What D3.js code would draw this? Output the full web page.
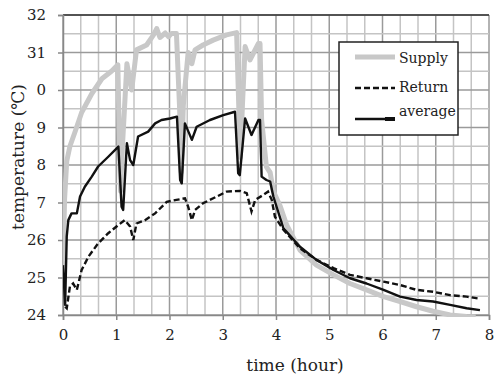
<!DOCTYPE html>
<html>
<head>
<meta charset="utf-8">
<script src="https://cdn.jsdelivr.net/npm/d3@7"></script>
<style>
  body { margin: 0; background: #fff; }
</style>
</head>
<body>
<div id="chart"></div>
<script>
// values
var yTickValues = [24, 25, 26, 27, 28, 29, 30, 31, 32];
var yTickLabels = ["24", "25", "26", "7", "8", "9", "0", "31", "32"];
var xTickValues = [0, 1, 2, 3, 4, 5, 6, 7, 8];

var supplyTime = [0, 0.03, 0.07, 0.13, 0.23, 0.35, 0.54, 0.73, 0.91, 1.03, 1.06, 1.08, 1.12, 1.2, 1.29, 1.38, 1.57, 1.7, 1.76, 1.82, 1.92, 1.98, 2.04, 2.13, 2.19, 2.22, 2.26, 2.35, 2.42, 2.48, 2.63, 2.82, 3.07, 3.26, 3.3, 3.33, 3.37, 3.42, 3.51, 3.67, 3.7, 3.73, 3.82, 3.89, 3.95, 4.08, 4.2, 4.45, 4.76, 5.08, 5.39, 5.7, 6.02, 6.33, 6.64, 6.95, 7.27, 7.58, 7.75];
var supplyTemp = [25.3, 27.1, 28.1, 28.5, 28.9, 29.4, 29.9, 30.3, 30.5, 30.67, 28.5, 27.3, 28.6, 30.7, 30.0, 31.07, 31.2, 31.47, 31.64, 31.4, 31.52, 31.42, 31.51, 31.51, 29.5, 27.8, 29.6, 31.0, 30.7, 31.07, 31.2, 31.33, 31.47, 31.53, 29.6, 28.2, 29.6, 31.16, 30.8, 31.24, 31.24, 29.2, 27.95, 27.8, 27.3, 26.9, 26.4, 25.73, 25.33, 25.07, 24.84, 24.67, 24.49, 24.36, 24.22, 24.1, 24.0, 23.96, 23.95];

var returnTime = [0.04, 0.07, 0.13, 0.19, 0.26, 0.35, 0.48, 0.66, 0.85, 1.04, 1.16, 1.26, 1.32, 1.38, 1.54, 1.73, 1.95, 2.13, 2.29, 2.35, 2.42, 2.48, 2.63, 2.89, 3.07, 3.32, 3.45, 3.54, 3.61, 3.76, 3.85, 3.92, 3.98, 4.14, 4.45, 4.76, 5.08, 5.39, 5.7, 6.02, 6.33, 6.64, 6.95, 7.27, 7.58, 7.8];
var returnTemp = [24.22, 24.18, 24.76, 24.84, 24.67, 25.2, 25.56, 25.91, 26.18, 26.4, 26.53, 26.36, 26.0, 26.44, 26.53, 26.71, 27.02, 27.07, 27.11, 26.89, 26.53, 26.8, 26.98, 27.16, 27.29, 27.31, 27.25, 26.76, 27.07, 27.2, 27.29, 27.07, 26.62, 26.27, 25.78, 25.47, 25.25, 25.07, 24.98, 24.89, 24.8, 24.67, 24.62, 24.53, 24.49, 24.44];

var averageTime = [0, 0.04, 0.07, 0.1, 0.16, 0.26, 0.32, 0.41, 0.54, 0.66, 0.85, 1.04, 1.1, 1.13, 1.2, 1.26, 1.32, 1.41, 1.6, 1.73, 1.85, 2.01, 2.14, 2.2, 2.23, 2.29, 2.42, 2.51, 2.76, 3.01, 3.23, 3.29, 3.32, 3.42, 3.54, 3.67, 3.7, 3.73, 3.82, 3.89, 3.95, 4.14, 4.45, 4.76, 5.08, 5.39, 5.7, 6.02, 6.33, 6.64, 6.95, 7.27, 7.58, 7.83];
var averageTemp = [25.33, 24.27, 26.09, 26.53, 26.71, 26.71, 27.16, 27.42, 27.69, 27.96, 28.22, 28.49, 26.89, 26.8, 28.58, 28.13, 28.0, 28.76, 28.89, 29.11, 29.2, 29.24, 29.29, 27.6, 27.51, 29.11, 28.67, 29.02, 29.2, 29.33, 29.42, 27.78, 27.73, 29.24, 28.8, 29.2, 29.2, 27.69, 27.6, 27.56, 27.16, 26.31, 25.82, 25.47, 25.2, 24.98, 24.84, 24.67, 24.49, 24.4, 24.36, 24.27, 24.18, 24.13];

var width = 495, height = 378;
var margin = {top: 15, right: 6, bottom: 63, left: 63};
var serif = '"DejaVu Serif", "Liberation Serif", serif';

var svg = d3.select('#chart').append('svg')
  .attr('width', width)
  .attr('height', height);

var x = d3.scaleLinear().domain([0, 8]).range([margin.left, width - margin.right]);
var y = d3.scaleLinear().domain([24, 32]).range([height - margin.bottom, margin.top]);

// grid: minor every 1/3 hour and 0.5 degree
var minorX = d3.range(0, 25).map(function(i) { return i / 3; });
var minorY = d3.range(24, 32.01, 0.5);

svg.append('g').selectAll('line').data(minorX).enter().append('line')
  .attr('x1', d => x(d)).attr('x2', d => x(d))
  .attr('y1', y(24)).attr('y2', y(32))
  .attr('stroke', d => Math.abs(d - Math.round(d)) < 0.01 ? '#9a9a9a' : '#c4c4c4')
  .attr('stroke-width', 1.5);

svg.append('g').selectAll('line').data(minorY).enter().append('line')
  .attr('x1', x(0)).attr('x2', x(8))
  .attr('y1', d => y(d)).attr('y2', d => y(d))
  .attr('stroke', d => d % 1 === 0 ? '#9a9a9a' : '#c4c4c4')
  .attr('stroke-width', 1.5);

// top border
svg.append('line')
  .attr('x1', x(0)).attr('x2', x(8))
  .attr('y1', y(32)).attr('y2', y(32))
  .attr('stroke', '#333').attr('stroke-width', 1.5);

var xAxis = d3.axisBottom(x).tickValues(xTickValues).tickSize(5).tickPadding(9);
var yAxis = d3.axisLeft(y).tickValues(yTickValues).tickSize(5).tickPadding(12)
  .tickFormat((d, i) => yTickLabels[i]);

var gx = svg.append('g')
  .attr('transform', 'translate(0,' + y(24) + ')')
  .call(xAxis);
var gy = svg.append('g')
  .attr('transform', 'translate(' + x(0) + ',0)')
  .call(yAxis);

[gx, gy].forEach(function(g) {
  g.select('.domain').attr('stroke', '#888').attr('stroke-width', 1.5);
  g.selectAll('.tick line').attr('stroke', '#888').attr('stroke-width', 1.5);
  g.selectAll('.tick text')
    .style('font-family', serif).style('font-size', '15px')
    .attr('fill', '#222');
});

svg.append('clipPath').attr('id', 'clip').append('rect')
  .attr('x', x(0)).attr('y', y(32) - 2)
  .attr('width', x(8) - x(0)).attr('height', y(24) - y(32) + 4);

var line = d3.line().x(d => x(d[0])).y(d => y(d[1]));
var plot = svg.append('g').attr('clip-path', 'url(#clip)');

plot.append('path')
  .attr('d', line(d3.zip(supplyTime, supplyTemp)))
  .attr('fill', 'none').attr('stroke', '#c8c8c8').attr('stroke-width', 5)
  .attr('stroke-linejoin', 'round');

plot.append('path')
  .attr('d', line(d3.zip(returnTime, returnTemp)))
  .attr('fill', 'none').attr('stroke', '#111').attr('stroke-width', 2.4)
  .attr('stroke-dasharray', '6,3');

plot.append('path')
  .attr('d', line(d3.zip(averageTime, averageTemp)))
  .attr('fill', 'none').attr('stroke', '#111').attr('stroke-width', 2.4)
  .attr('stroke-linejoin', 'round');

// legend
var lg = svg.append('g');
lg.append('rect')
  .attr('x', 339).attr('y', 42).attr('width', 119).attr('height', 93)
  .attr('fill', '#fff').attr('stroke', '#222').attr('stroke-width', 1.5);

var legendItems = [
  {name: 'Supply', color: '#c8c8c8', w: 5, dash: null, ly: 57, ty: 63},
  {name: 'Return', color: '#111', w: 2.4, dash: '6,3', ly: 88, ty: 92},
  {name: 'average', color: '#111', w: 2.4, dash: null, ly: 119, ty: 116}
];
legendItems.forEach(function(it) {
  lg.append('line')
    .attr('x1', 355).attr('x2', 395).attr('y1', it.ly).attr('y2', it.ly)
    .attr('stroke', it.color).attr('stroke-width', it.w)
    .attr('stroke-dasharray', it.dash);
  lg.append('text')
    .attr('x', 399).attr('y', it.ty)
    .style('font-family', serif).style('font-size', '14px')
    .attr('fill', '#222')
    .text(it.name);
});
lg.append('line')
  .attr('x1', 385).attr('x2', 395).attr('y1', 119).attr('y2', 119)
  .attr('stroke', '#111').attr('stroke-width', 4);

// axis titles
svg.append('text')
  .attr('x', 295).attr('y', 371)
  .attr('text-anchor', 'middle')
  .style('font-family', serif).style('font-size', '17px')
  .attr('fill', '#222')
  .text('time (hour)');

svg.append('text')
  .attr('transform', 'translate(24,157) rotate(-90)')
  .attr('text-anchor', 'middle')
  .style('font-family', serif).style('font-size', '17px')
  .attr('fill', '#222')
  .text('temperature (℃)');
</script>
</body>
</html>
